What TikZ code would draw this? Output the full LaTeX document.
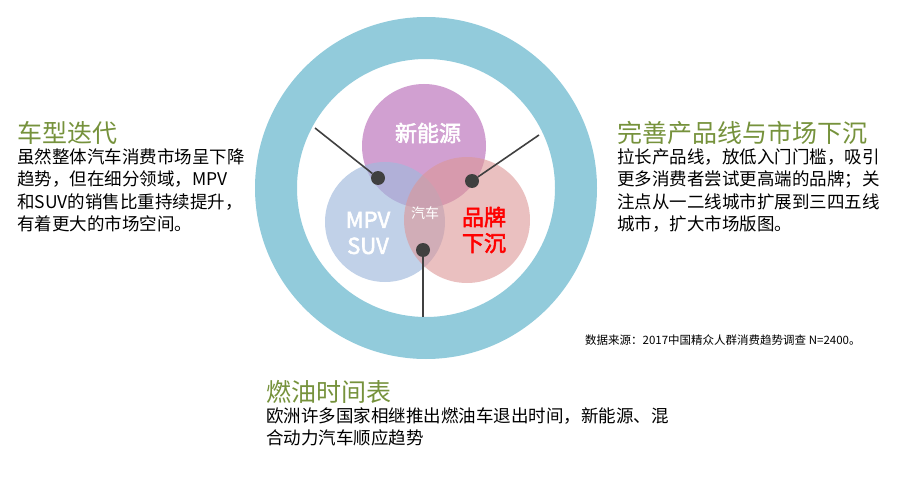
\documentclass[tikz,border=0pt]{standalone}
\usepackage{fontspec}
\setmainfont{Noto Sans CJK SC}
\newfontfamily\cjkb{Noto Sans CJK SC}[FakeBold=2.5]
\definecolor{ringc}{RGB}{146,203,219}
\definecolor{titc}{RGB}{118,146,60}
\definecolor{purp}{RGB}{190,120,190}
\definecolor{bluec}{RGB}{160,185,220}
\definecolor{pinkc}{RGB}{220,150,150}
\definecolor{linec}{RGB}{64,64,64}
\tikzset{
 title/.style={anchor=west,text=titc,font=\fontsize{25}{28}\selectfont,inner sep=0},
 body/.style={anchor=north west,align=left,font=\fontsize{17.5}{22.5}\selectfont,inner sep=0},
 dot/.style={circle,fill=linec,minimum size=14pt,inner sep=0},
 conn/.style={draw=linec,line width=1.6pt},
 big/.style={text=white,font=\cjkb\fontsize{22}{26}\selectfont,align=center}
}
\begin{document}
\begin{tikzpicture}[x=1pt,y=-1pt]
\useasboundingbox (0,0) rectangle (898,495);
\fill[ringc,even odd rule] (426,188) circle (171) (426,188) circle (129);
\fill[purp,opacity=0.7] (424,146) circle (62);
\fill[bluec,opacity=0.65] (385,222) circle (60);
\fill[pinkc,opacity=0.6] (467,220) circle (63);
\node[big] (ne) at (428,133) {新能源};
\node[big] (mpv) at (368,233) {MPV\\SUV};
\node[text=white,font=\fontsize{14}{16}\selectfont] (car) at (425,213) {汽车};
\node[big,text=red] (brand) at (484,230) {品牌\\下沉};
\node[dot] (d1) at (378,178) {};
\node[dot] (d2) at (472,181) {};
\node[dot] (d3) at (423,250) {};
\coordinate (e1) at (315,128);
\coordinate (e2) at (539,135);
\coordinate (e3) at (423,317);
\draw[conn] (e1) -- (d1);
\draw[conn] (e2) -- (d2);
\draw[conn] (e3) -- (d3);
\node[title] (t1) at (17,133) {车型迭代};
\node[body] (b1) at (17,148) {虽然整体汽车消费市场呈下降\\趋势，但在细分领域，MPV\\和SUV的销售比重持续提升，\\有着更大的市场空间。};
\node[title] (t2) at (617,133) {完善产品线与市场下沉};
\node[body] (b2) at (617,148) {拉长产品线，放低入门门槛，吸引\\更多消费者尝试更高端的品牌；关\\注点从一二线城市扩展到三四五线\\城市，扩大市场版图。};
\node[title] (t3) at (266,392) {燃油时间表};
\node[body] (b3) at (266,407) {欧洲许多国家相继推出燃油车退出时间，新能源、混\\合动力汽车顺应趋势};
\node[anchor=west,inner sep=0,font=\fontsize{11.5}{13}\selectfont] (src) at (585,340) {数据来源：2017中国精众人群消费趋势调查 N=2400。};
\end{tikzpicture}
\end{document}
